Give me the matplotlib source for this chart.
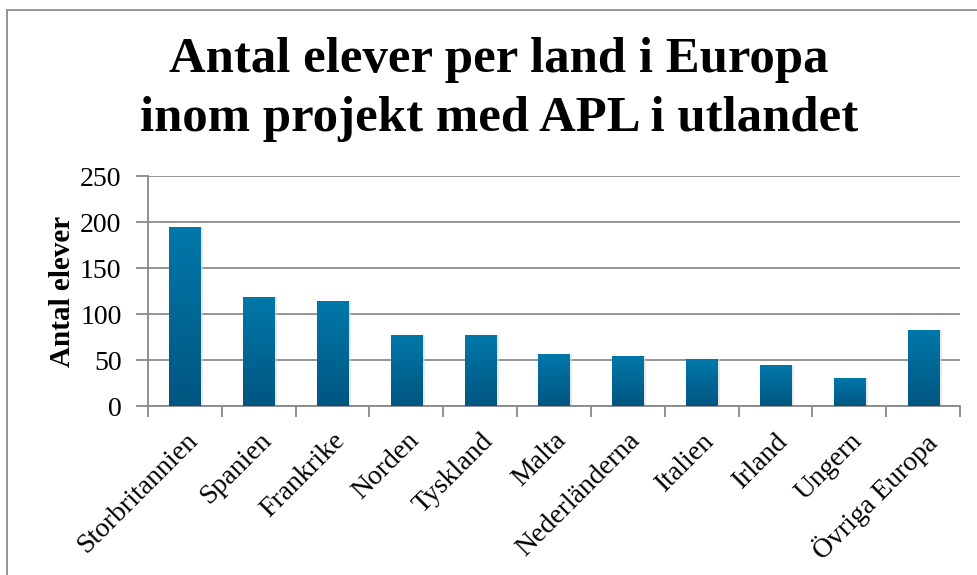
import numpy as np
import matplotlib
matplotlib.use("Agg")
import matplotlib.pyplot as plt
from matplotlib.colors import LinearSegmentedColormap
from matplotlib.patches import Rectangle

# data
countries = ['Storbritannien', 'Spanien', 'Frankrike', 'Norden', 'Tyskland', 'Malta',
             'Nederländerna', 'Italien', 'Irland', 'Ungern', 'Övriga Europa']
students = [195, 119, 114, 77, 77, 57, 54, 51, 45, 30, 83]
yticks = [0, 50, 100, 150, 200, 250]

plt.rcParams['font.family'] = ['Liberation Serif', 'DejaVu Serif']

fig = plt.figure(figsize=(9.78, 5.75), dpi=100)
ax = fig.add_axes([0.1513, 0.2939, 0.8303, 0.4000])

x = np.arange(len(countries))
width = 0.42

# soft shadow behind the bars
ax.bar(x + 0.03, students, width=width + 0.02, color='#d9d9d9', alpha=0.6, zorder=2)
bars = ax.bar(x, students, width=width, color='#00678f', zorder=3)

# vertical gradient inside each bar (light top, dark bottom)
cmap = LinearSegmentedColormap.from_list('bar', ['#005680', '#0078aa'])
grad = np.linspace(0, 1, 256).reshape(-1, 1)
for b in bars:
    x0, y0 = b.get_x(), b.get_y()
    w, h = b.get_width(), b.get_height()
    im = ax.imshow(grad, cmap=cmap, origin='lower', aspect='auto',
                   extent=[x0, x0 + w, y0, y0 + h], zorder=4)
    im.set_clip_path(b)

ax.set_xlim(-0.5, len(countries) - 0.5)
ax.set_ylim(0, 250)
ax.set_yticks(yticks)
ax.set_yticklabels([str(t) for t in yticks], fontsize=20)

ax.set_xticks(x)
ax.set_xticklabels(countries, rotation=45, ha='right', rotation_mode='anchor', fontsize=20)
ax.tick_params(axis='x', which='major', length=0, pad=16)
ax.set_xticks(np.arange(-0.5, len(countries)), minor=True)
ax.tick_params(axis='x', which='minor', length=8, width=1.3, color='#888888', direction='out')
ax.tick_params(axis='y', length=9, width=1.3, color='#888888', pad=10)

ax.grid(axis='y', color='#8c8c8c', linewidth=1.3, zorder=0)
ax.set_axisbelow(True)
for s in ['top', 'right']:
    ax.spines[s].set_visible(False)
for s in ['left', 'bottom']:
    ax.spines[s].set_color('#888888')
    ax.spines[s].set_linewidth(1.3)

ax.set_ylabel('Antal elever', fontsize=21, fontweight='bold', labelpad=3)

fig.text(0.51, 0.935, 'Antal elever per land i Europa\ninom projekt med APL i utlandet',
         ha='center', va='top', fontsize=36.5, fontweight='bold', linespacing=1.36)

# outer frame of the chart area
fig.add_artist(Rectangle((7 / 978, -0.01), 1.0, 1 - 10 / 575 + 0.01, transform=fig.transFigure,
                         fill=False, edgecolor='#8c8c8c', linewidth=1.3))

fig.savefig('out.png', dpi=100)
